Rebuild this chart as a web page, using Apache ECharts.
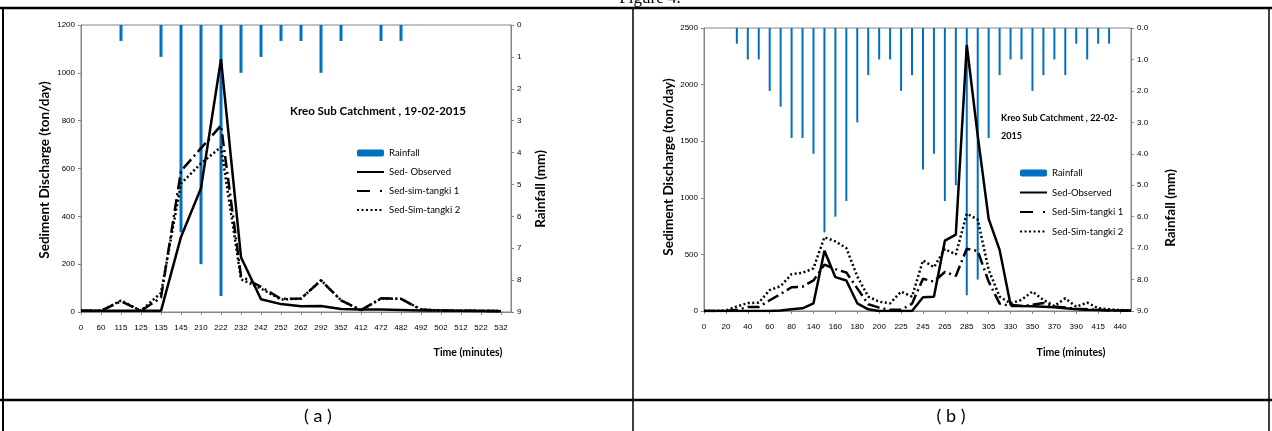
<!DOCTYPE html>
<html><head><meta charset="utf-8">
<script src="https://cdn.jsdelivr.net/npm/echarts@6/dist/echarts.min.js"></script>
<style>html,body{margin:0;padding:0;background:#fff}#c{width:1272px;height:431px}</style>
</head><body><div id="c"></div><script>
// ---------- Panel (a): Kreo Sub Catchment, 19-02-2015 ----------
const timeA = ['0','60','115','125','135','145','210','222','232','242','252','262','292','352','412','472','482','492','502','512','522','532'];
const rainA = [null,null,0.5,null,1.0,6.5,7.5,8.5,1.5,1.0,0.5,0.5,1.5,0.5,null,0.5,0.5,null,null,null,null,null];
const obsA  = [5,5,5,5,5,314,518,1057,229,53,33,24,25,13,10,10,8,6,6,5,4,3];
const sim1A = [5,5,45,5,60,590,685,780,150,105,55,56,132,49,8,57,55,10,6,5,5,4];
const sim2A = [5,5,48,5,80,537,621,690,137,98,52,56,133,49,7,56,55,11,6,5,5,4];

// ---------- Panel (b): Kreo Sub Catchment, 22-02-2015 ----------
const timeB = ['0','20','40','60','80','140','160','180','200','225','245','265','285','305','330','350','370','390','415','440'];
const rainB = [null,null,null,0.5,1.0,1.0,2.0,2.5,3.5,3.5,4.0,6.5,6.0,5.5,3.0,1.5,1.0,1.0,2.0,1.5,4.5,4.0,5.5,5.0,8.5,8.0,3.5,1.5,1.0,1.0,2.0,1.5,1.0,1.5,0.5,1.0,0.5,0.5,null,null];
const obsB  = [0,0,0,0,0,0,0,5,15,24,68,532,299,269,68,15,0,0,0,0,121,125,621,674,2350,1550,814,540,55,45,42,38,33,25,15,10,8,6,5,5];
const sim1B = [0,0,0,10,35,35,95,150,210,215,270,410,370,340,200,60,30,10,10,65,285,260,345,310,550,530,260,65,45,45,55,70,40,30,20,15,10,5,5,3];
const sim2B = [0,0,5,40,70,74,185,220,325,337,377,652,615,556,305,127,82,68,171,127,447,387,547,500,860,808,364,127,68,98,172,98,44,112,38,74,24,15,9,3];

// The time axes carry an unlabelled category between each labelled one (Excel shows every other label)
function spread(arr, total, fill) {
  const out = new Array(total).fill(fill);
  arr.forEach((v, i) => { out[2 * i] = v; });
  return out;
}
const catsA = spread(timeA, 44, '');
const catsB = spread(timeB, 40, '');
const A = { rain: spread(rainA, 44, null), obs: spread(obsA, 44, null), s1: spread(sim1A, 44, null), s2: spread(sim2A, 44, null) };

const BLUE = '#0070C0';
const AX = '#868686';
const TICKF = "'Liberation Sans Narrow','Liberation Sans',sans-serif";
const TF = "Lato, 'Open Sans', sans-serif";

function xAxis(gi, cats) {
  return {
    type: 'category', gridIndex: gi, data: cats, boundaryGap: false,
    axisLine: { lineStyle: { color: AX, width: 1 } },
    axisTick: { interval: 1, length: 3, lineStyle: { color: AX } },
    axisLabel: { interval: 1, fontSize: 8, color: '#000', fontFamily: TICKF, margin: 12 },
    splitLine: { show: false }
  };
}
function yLeft(gi, max, itv) {
  return {
    type: 'value', gridIndex: gi, min: 0, max: max, interval: itv,
    axisLine: { show: true, lineStyle: { color: AX } },
    axisTick: { show: true, length: 3, lineStyle: { color: AX } },
    axisLabel: { fontSize: 8, color: '#000', fontFamily: TICKF, margin: 6, formatter: v => String(v) },
    splitLine: { show: false }
  };
}
function yRight(gi, dec) {
  return {
    type: 'value', gridIndex: gi, position: 'right', inverse: true, min: 0, max: 9, interval: 1,
    axisLine: { show: true, lineStyle: { color: AX } },
    axisTick: { show: true, length: 3, lineStyle: { color: AX } },
    axisLabel: { fontSize: 8, color: '#000', fontFamily: TICKF, margin: 6,
      formatter: v => dec ? v.toFixed(1) : String(v) },
    splitLine: { show: false }
  };
}
function lineSeries(name, xi, yi, data, type) {
  return {
    type: 'line', name: name, xAxisIndex: xi, yAxisIndex: yi, data: data,
    showSymbol: false, symbol: 'none', connectNulls: true, z: 5,
    lineStyle: { color: '#000', width: 2.5, type: type, cap: 'butt' },
    itemStyle: { color: '#000' }
  };
}
const DASH1 = [12, 4, 2, 4];
const DOT = [2, 2.5];
const noSym = { opacity: 0 };

const chart = echarts.init(document.getElementById('c'));
const legendText = { fontSize: 9.5, color: '#000', fontFamily: TF };
function rot(x, y, text) {
  return { type: 'text', x: x, y: y, rotation: Math.PI / 2,
    style: { text: text, font: "bold 13.5px Lato, sans-serif", fill: '#000', align: 'center', verticalAlign: 'middle' } };
}
function txt(x, y, text, font, align) {
  return { type: 'text', x: x, y: y, style: { text: text, font: font, fill: '#000', align: align || 'center', verticalAlign: 'middle' } };
}
chart.setOption({
  animation: false,
  backgroundColor: '#fff',
  grid: [
    { left: 81, top: 25, width: 430, height: 287, show: true, borderColor: AX, borderWidth: 1 },
    { left: 704, top: 28, width: 427, height: 283, show: true, borderColor: AX, borderWidth: 1 }
  ],
  xAxis: [xAxis(0, catsA), xAxis(1, catsB)],
  yAxis: [yLeft(0, 1200, 200), yRight(0, false), yLeft(1, 2500, 500), yRight(1, true)],
  legend: [
    { left: 356, top: 148, padding: 0, orient: 'vertical', itemWidth: 27, itemHeight: 7, itemGap: 9, textStyle: legendText,
      data: ['Rainfall',
        { name: 'Sed- Observed', itemStyle: noSym },
        { name: 'Sed-sim-tangki 1', itemStyle: noSym, lineStyle: { type: [13, 10, 2, 10] } },
        { name: 'Sed-Sim-tangki 2', itemStyle: noSym }] },
    { left: 1019, top: 168, padding: 0, orient: 'vertical', itemWidth: 27, itemHeight: 7, itemGap: 9.5, textStyle: legendText,
      data: ['Rainfall',
        { name: 'Sed-Observed', itemStyle: noSym },
        { name: 'Sed-Sim-tangki 1', itemStyle: noSym, lineStyle: { type: [13, 10, 2, 10] } },
        { name: 'Sed-Sim-tangki 2', itemStyle: noSym }] }
  ],
  series: [
    { type: 'bar', name: 'Rainfall', xAxisIndex: 0, yAxisIndex: 1, data: A.rain, barWidth: 3, itemStyle: { color: BLUE }, z: 2 },
    lineSeries('Sed- Observed', 0, 0, A.obs, 'solid'),
    lineSeries('Sed-sim-tangki 1', 0, 0, A.s1, DASH1),
    lineSeries('Sed-Sim-tangki 2', 0, 0, A.s2, DOT),
    { type: 'bar', name: 'Rainfall', xAxisIndex: 1, yAxisIndex: 3, data: rainB, barWidth: 2, itemStyle: { color: BLUE }, z: 2 },
    lineSeries('Sed-Observed', 1, 2, obsB, 'solid'),
    lineSeries('Sed-Sim-tangki 1', 1, 2, sim1B, DASH1),
    lineSeries('Sed-Sim-tangki 2', 1, 2, sim2B, DOT)
  ],
  graphic: [
    // table frame
    { type: 'line', shape: { x1: 0, y1: 8, x2: 1272, y2: 8 }, style: { stroke: '#000', lineWidth: 2.5 } },
    { type: 'line', shape: { x1: 0, y1: 400, x2: 1272, y2: 400 }, style: { stroke: '#000', lineWidth: 2.5 } },
    { type: 'line', shape: { x1: 3, y1: 8, x2: 3, y2: 431 }, style: { stroke: '#000', lineWidth: 2 } },
    { type: 'line', shape: { x1: 633, y1: 8, x2: 633, y2: 431 }, style: { stroke: '#000', lineWidth: 1.5 } },
    { type: 'line', shape: { x1: 1269, y1: 8, x2: 1269, y2: 431 }, style: { stroke: '#000', lineWidth: 1.5 } },
    { type: 'text', x: 650, y: 7, style: { text: 'Figure 4.', font: "17px 'Liberation Serif', serif", fill: '#000', align: 'center', verticalAlign: 'bottom' } },
    txt(318, 416, '( a )', "18px Lato, sans-serif"),
    txt(951, 416, '( b )', "18px Lato, sans-serif"),
    // panel a titles
    rot(45, 170, 'Sediment Discharge (ton/day)'),
    rot(541, 189, 'Rainfall (mm)'),
    txt(468, 353, 'Time (minutes)', "bold 10.5px Lato, sans-serif"),
    txt(290, 111, 'Kreo Sub Catchment , 19-02-2015', "bold 11.5px Lato, sans-serif", 'left'),
    // panel b titles
    rot(669, 167, 'Sediment Discharge (ton/day)'),
    rot(1171, 208, 'Rainfall (mm)'),
    txt(1071, 353, 'Time (minutes)', "bold 10.5px Lato, sans-serif"),
    txt(1001, 118, 'Kreo Sub Catchment , 22-02-', "bold 9px Lato, sans-serif", 'left'),
    txt(1001, 136, '2015', "bold 9px Lato, sans-serif", 'left')
  ]
});
</script></body></html>
